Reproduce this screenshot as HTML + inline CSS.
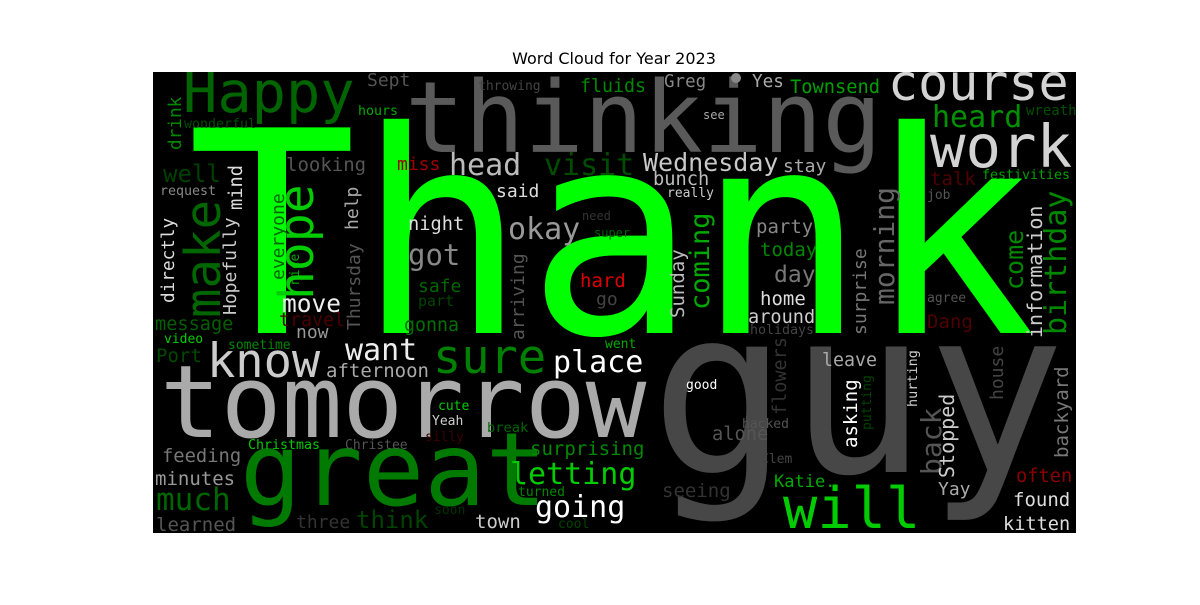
<!DOCTYPE html>
<html><head><meta charset="utf-8"><style>
html,body{margin:0;padding:0;background:#fff;}
svg text{font-family:"DejaVu Sans Mono","Liberation Mono",monospace;}
</style></head><body>
<svg id="chart" width="1200" height="600" xmlns="http://www.w3.org/2000/svg">
<defs><clipPath id="cloudClip"><rect x="153" y="72" width="923" height="461"/></clipPath></defs>
<text x="614" y="64" text-anchor="middle" style="font-family:'DejaVu Sans','Liberation Sans',sans-serif;font-size:16px" fill="#000">Word Cloud for Year 2023</text>
<rect x="153" y="72" width="923" height="461" fill="#000"/>
<g id="words" clip-path="url(#cloudClip)"></g>
<circle cx="736" cy="78" r="5" fill="#888"/>
</svg>
<script>
// Words (horizontal)
const hWords = ["Thank","guy","tomorrow","great","thinking","Happy","course","work","heard","wreath","festivities","talk","job","Wednesday","stay","bunch","really","Greg","Yes","Townsend","see","fluids","throwing","Sept","hours","wonderful","well","request","looking","miss","head","visit","said","okay","night","got","need","super","hard","go","safe","part","move","gonna","travel","now","message","video","sometime","Port","know","want","afternoon","sure","place","cute","Yeah","silly","break","Christmas","Christee","feeding","minutes","much","learned","three","think","town","soon","cool","turned","surprising","letting","going","went","home","around","holidays","Dang","leave","good","hacked","alone","Clem","seeing","Katie.","will","Yay","often","found","kitten","agree","party","today","day"];
const hSizes = [282,230,101,102,99,57,50,59,30,14,13.3,19,13,25,18,18.7,13,17.5,17.7,18.7,12,18.3,13,18,13.3,13.3,24,13.3,19,18,30,30,18,30,18.7,29,12,12,19,18,18,15,24.5,18.3,18.3,18,18.6,13,13,19,47,30,19,47,30,13,13,13,13.7,13.3,13,18.8,19,31,19,18,24,19,13,13,13,19,30,30,13,19,18.6,13.3,19,18.3,13,13,18.7,13,19,17,57,18,18.7,19,18.6,13,19,19,23];
const hColors = ["#00ff00","#474747","#aaaaaa","#007a00","#5a5a5a","#006400","#d3d3d3","#d3d3d3","#009000","#005000","#00a000","#500000","#555555","#c8c8c8","#aaaaaa","#bbbbbb","#cccccc","#888888","#aaaaaa","#00a000","#aaaaaa","#008800","#444444","#555555","#00aa00","#004d00","#004000","#888888","#555555","#a00000","#bbbbbb","#004d00","#dddddd","#999999","#dddddd","#888888","#333333","#006000","#dd0000","#444444","#006600","#004400","#eeeeee","#007000","#4a0000","#999999","#006000","#00cc00","#008800","#004a00","#cccccc","#eeeeee","#aaaaaa","#008000","#ffffff","#00cc00","#cccccc","#3d0000","#006600","#00cc00","#555555","#777777","#999999","#006600","#555555","#333333","#004400","#cccccc","#003000","#004400","#008800","#008800","#00cc00","#ffffff","#00aa00","#dddddd","#cccccc","#444444","#500000","#aaaaaa","#ffffff","#555555","#555555","#444444","#333333","#00aa00","#00cc00","#aaaaaa","#8b0000","#dddddd","#dddddd","#555555","#888888","#008800","#777777"];
const hLeft = [187,650,160,240,405,183,888,930,932,1026,982,930,927,643,783,653,667,664,752,790,703,580,478,367,358,184,163,160,286,397,449,544,496,508,408,408,582,594,580,596,418,418,282,404,279,296,155,164,228,156,207,345,326,433,553,438,432,425,487,248,345,162,155,156,156,296,356,475,434,558,518,530,510,535,605,760,748,750,927,822,686,742,712,761,662,774,783,938,1016,1013,1003,927,756,760,774];
const hBase = [333,472,437,505,152,112,100,167,127,115,179,185,199,171,172,185,197,87,87,93,119,92,90,86,115,128,182,195,171,170,175,175,197,239,230,265,220,237,287,305,292,306,312,331,326,338,330,343,349,362,377,360,377,373,372,410,425,441,432,449,449,462,485,510,531,528,528,528,514,528,496,455,484,517,348,305,323,334,328,366,389,428,440,463,497,487,528,495,482,506,530,302,233,256,282];
// Words (vertical, reading bottom-to-top)
const vWords = ["drink","make","directly","Hopefully","mind","everyone","nice","hope","help","Thursday","arriving","Sunday","coming","morning","surprise","information","birthday","come","flowers","asking","putting","hurting","back","Stopped","house","backyard"];
const vSizes = [17.7,49,17.7,18,18.7,18,13,48,18,18,18,19,27,28,18,20,30,25,18.5,19,13,13.5,28,20,18,19];
const vColors = ["#008800","#006600","#dddddd","#cccccc","#dddddd","#006600","#00aa00","#00cc00","#aaaaaa","#555555","#555555","#bbbbbb","#00aa00","#666666","#777777","#cccccc","#008800","#008800","#333333","#ffffff","#004400","#cccccc","#555555","#cccccc","#444444","#777777"];
const vBaseX = [181,220,174,236,242,284,299,313,358,360,524,684,709,894,866,1042,1066,1023,786,857,871,917,941,954,1003,1068];
const vBottom = [150,318,303,315,210,280,285,300,230,330,340,318,310,305,335,338,335,290,415,448,430,407,475,478,400,458];

const g = document.getElementById('words');
const NS = 'http://www.w3.org/2000/svg';
for (let i = 0; i < hWords.length; i++) {
  const t = document.createElementNS(NS, 'text');
  
  
  t.setAttribute('x', hLeft[i]);
  t.setAttribute('y', hBase[i]);
  t.setAttribute('font-size', hSizes[i]);
  t.setAttribute('fill', hColors[i]);
  t.textContent = hWords[i];
  g.appendChild(t);
}
for (let i = 0; i < vWords.length; i++) {
  const t = document.createElementNS(NS, 'text');
  
  
  t.setAttribute('x', vBaseX[i]);
  t.setAttribute('y', vBottom[i]);
  t.setAttribute('font-size', vSizes[i]);
  t.setAttribute('fill', vColors[i]);
  t.setAttribute('transform', 'rotate(-90 ' + vBaseX[i] + ' ' + vBottom[i] + ')');
  t.textContent = vWords[i];
  g.appendChild(t);
}
</script>
</body></html>
